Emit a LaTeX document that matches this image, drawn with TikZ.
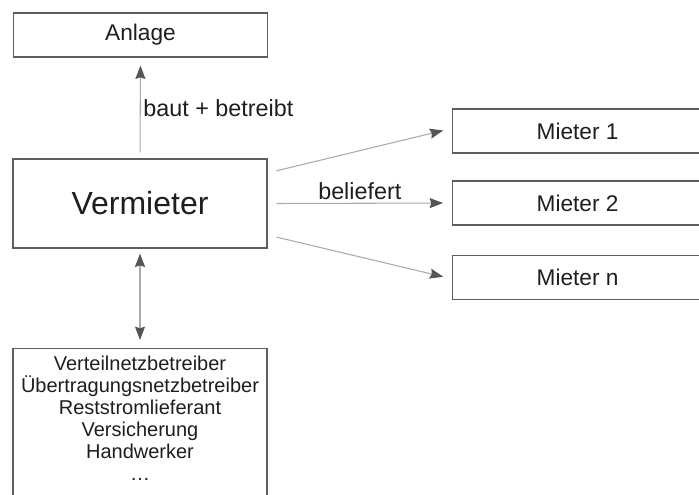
\documentclass[tikz,border=0pt]{standalone}
\usepackage{fontspec}
\setmainfont{Liberation Sans}
\usetikzlibrary{positioning,arrows.meta}
\definecolor{boxgray}{HTML}{5E5E5E}
\definecolor{linegray}{HTML}{ABABAB}
\definecolor{tipgray}{HTML}{555555}
\definecolor{txt}{HTML}{1E1E1E}

\begin{document}
\begin{tikzpicture}[x=0.75pt, y=-0.75pt, text=txt,
  box/.style={draw=boxgray, line width=0.9pt, inner sep=0pt, font=\fontsize{17}{20}\selectfont},
  arr/.style={draw=linegray, line width=0.8pt, -{Stealth[length=10pt, width=7.5pt, inset=1.2pt, color=tipgray]}},
  dblarr/.style={draw=linegray, line width=0.8pt, {Stealth[length=10pt, width=7.5pt, inset=1.2pt, color=tipgray]}-{Stealth[length=10pt, width=7.5pt, inset=1.2pt, color=tipgray]}},
  lbl/.style={font=\fontsize{17.5}{20}\selectfont, inner sep=2pt}]
\useasboundingbox (0,0) rectangle (699,494);
\clip (0,0) rectangle (699,494);
\node[box, minimum width=191pt, minimum height=33pt] (anlage) at (140.5,35) {Anlage};
\node[box, minimum width=190.5pt, minimum height=66.75pt, font=\fontsize{24}{28}\selectfont] (verm) at (140,203.5) {Vermieter};
\node[box, anchor=west, minimum width=187.5pt, minimum height=33pt] (m1) at (452,131) {Mieter 1};
\node[box, anchor=west, minimum width=187.5pt, minimum height=33pt] (m2) at (452,203) {Mieter 2};
\node[box, anchor=west, minimum width=187.5pt, minimum height=33pt] (mn) at (452,277.5) {Mieter n};
\node[box, anchor=north, minimum width=190.5pt, inner ysep=5.5pt, align=center, font=\fontsize{15}{16.5}\selectfont] (partner) at (140,348)
  {Verteilnetzbetreiber\\Übertragungsnetzbetreiber\\Reststromlieferant\\Versicherung\\Handwerker\\\ldots\rule[-20pt]{0pt}{0pt}};
% Vermieter -> Anlage
\draw[arr, shorten <=4.5pt, shorten >=6pt] (verm.north) -- node[lbl, right] {baut + betreibt} (anlage.south);
% Vermieter -> Mieter
\draw[arr, shorten <=6.75pt, shorten >=6.75pt] ([yshift=22.9pt]verm.east) -- ([yshift=2pt]m1.west);
\draw[arr, shorten <=6.75pt, shorten >=6.75pt] (verm.east) -- node[lbl, above] {beliefert} (m2.west);
\draw[arr, shorten <=6.75pt, shorten >=6.75pt] ([yshift=-23.6pt]verm.east) -- ([yshift=-1pt]mn.west);
% Vermieter <-> Partner
\draw[dblarr, shorten <=3.75pt, shorten >=6pt] (verm.south) -- (partner.north);
\end{tikzpicture}
\end{document}
